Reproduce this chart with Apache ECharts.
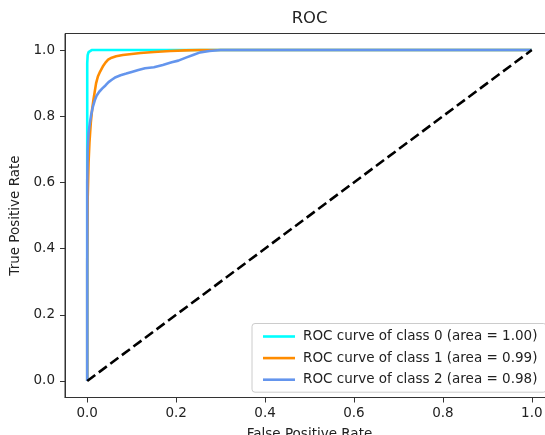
<!DOCTYPE html>
<html>
<head>
<meta charset="utf-8">
<script src="https://cdn.jsdelivr.net/npm/echarts@6/dist/echarts.min.js"></script>
<style>
  html, body { margin: 0; padding: 0; background: #ffffff; }
  #chart { width: 545px; height: 435px; }
</style>
</head>
<body>
<div id="chart"></div>
<script>
// ROC curves for a 3-class classifier
const seriesNames = [
  'ROC curve of class 0 (area = 1.00)',
  'ROC curve of class 1 (area = 0.99)',
  'ROC curve of class 2 (area = 0.98)'
];

const fpr0 = [0, 0, 0.001, 0.003, 0.006, 0.010, 0.020, 1.0];
const tpr0 = [0, 0.96, 0.985, 0.994, 0.998, 1.0, 1.0, 1.0];

const fpr1 = [0, 0, 0.001, 0.003, 0.005, 0.008, 0.011, 0.014, 0.017, 0.020, 0.024, 0.029,
              0.035, 0.041, 0.047, 0.055, 0.065, 0.080, 0.100, 0.120, 0.150, 0.187, 0.220, 0.254, 1.0];
const tpr1 = [0, 0.35, 0.55, 0.66, 0.72, 0.78, 0.82, 0.85, 0.875, 0.90, 0.92, 0.935,
              0.950, 0.962, 0.971, 0.977, 0.981, 0.985, 0.988, 0.991, 0.994, 0.997, 0.999, 1.0, 1.0];

const fpr2 = [0, 0, 0.001, 0.003, 0.006, 0.009, 0.013, 0.017, 0.021, 0.027, 0.034, 0.041,
              0.048, 0.056, 0.064, 0.075, 0.088, 0.100, 0.115, 0.130, 0.150, 0.170, 0.190,
              0.205, 0.222, 0.238, 0.254, 0.275, 0.300, 0.350, 1.0];
const tpr2 = [0, 0.60, 0.70, 0.75, 0.78, 0.805, 0.830, 0.848, 0.862, 0.874, 0.884, 0.893,
              0.903, 0.911, 0.918, 0.924, 0.929, 0.934, 0.940, 0.945, 0.948, 0.955, 0.963,
              0.968, 0.977, 0.985, 0.993, 0.997, 1.0, 1.0, 1.0];

const chanceX = [0, 1];
const chanceY = [0, 1];

const tickValues = [0, 0.2, 0.4, 0.6, 0.8, 1.0];
const curveColors = ['#00ffff', '#ff8c00', '#6495ed'];

const FONT = 'DejaVu Sans';
const TEXT = '#222222';
const SPINE = '#333333';

function zip(xs, ys) { return xs.map((x, i) => [x, ys[i]]); }

const curves = [zip(fpr0, tpr0), zip(fpr1, tpr1), zip(fpr2, tpr2)];

function axisCommon(name, gap) {
  return {
    type: 'value',
    min: -0.05,
    max: 1.05,
    name: name,
    nameLocation: 'middle',
    nameGap: gap,
    nameTextStyle: { fontFamily: FONT, fontSize: 13.5, color: TEXT },
    axisLine: { show: true, onZero: false, lineStyle: { color: SPINE, width: 1 } },
    axisTick: { show: true, length: 5, customValues: tickValues, lineStyle: { color: SPINE, width: 1 } },
    axisLabel: {
      customValues: tickValues,
      fontFamily: FONT, fontSize: 13.5, color: TEXT,
      formatter: v => v.toFixed(1)
    },
    splitLine: { show: false }
  };
}

const xAxis = axisCommon('False Positive Rate', 30);
xAxis.axisLabel.margin = 9;
const yAxis = axisCommon('True Positive Rate', 38);
yAxis.axisLabel.margin = 10;

const series = curves.map((data, i) => ({
  name: seriesNames[i],
  type: 'line',
  data: data,
  showSymbol: false,
  symbol: 'none',
  animation: false,
  lineStyle: { color: curveColors[i], width: 2.6 },
  itemStyle: { color: curveColors[i] }
}));

// chance diagonal
series.push({
  name: 'chance',
  type: 'line',
  data: zip(chanceX, chanceY),
  showSymbol: false,
  symbol: 'none',
  animation: false,
  lineStyle: { color: '#000000', width: 2.6, type: [10, 4.4] }
});

const chart = echarts.init(document.getElementById('chart'), null, { renderer: 'canvas' });
chart.setOption({
  backgroundColor: '#ffffff',
  animation: false,
  title: {
    text: 'ROC',
    left: 309.5,
    top: 11,
    textAlign: 'center',
    padding: 0,
    textStyle: { fontFamily: FONT, fontSize: 16.4, fontWeight: 'normal', color: TEXT }
  },
  grid: {
    left: 65, top: 33.5, width: 489, height: 364,
    outerBoundsMode: 'none',
    containLabel: false,
    show: true, borderColor: SPINE, borderWidth: 1, backgroundColor: 'transparent'
  },
  xAxis: xAxis,
  yAxis: yAxis,
  legend: {
    data: seriesNames,
    orient: 'vertical',
    left: 252,
    top: 323.5,
    icon: 'rect',
    itemWidth: 32,
    itemHeight: 2.6,
    itemGap: 6.6,
    padding: [5.5, 9, 5, 11],
    backgroundColor: 'rgba(255,255,255,0.8)',
    borderColor: '#cccccc',
    borderWidth: 1,
    borderRadius: 3,
    textStyle: { fontFamily: FONT, fontSize: 13.5, color: TEXT, lineHeight: 15, padding: [0, 0, 0, 3] }
  },
  series: series
});
</script>
</body>
</html>
